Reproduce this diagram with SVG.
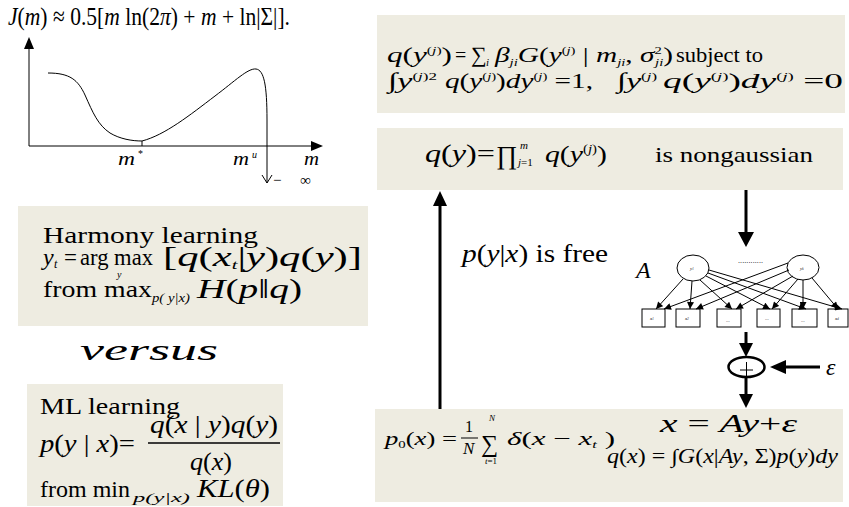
<svg xmlns="http://www.w3.org/2000/svg" width="849" height="507" viewBox="0 0 849 507">
<style>
text{font-family:"Liberation Serif","Times New Roman",serif;fill:#000}
.i{font-style:italic}
.box{fill:#EEECE1;stroke:none}
.thin{stroke:#000;stroke-width:1;fill:none}
.thick{stroke:#000;stroke-width:3;fill:none}
.tiny{font-size:5px}
</style>
<defs>
<marker id="ah" viewBox="0 0 10 10" refX="10" refY="5" markerWidth="8" markerHeight="7" markerUnits="userSpaceOnUse" orient="auto">
<path d="M0,0 L10,5 L0,10 z" fill="#000"/>
</marker>
</defs>
<rect width="849" height="507" fill="#fff"/>

<g id="graph">
<text x="8" y="25" font-size="26" textLength="282" lengthAdjust="spacingAndGlyphs"><tspan class="i">J</tspan>(<tspan class="i">m</tspan>) ≈ 0.5[<tspan class="i">m</tspan> ln(2<tspan class="i">π</tspan>) + <tspan class="i">m</tspan> + ln|Σ|].</text>
<line x1="29" y1="146" x2="29" y2="48" class="thin" stroke-width="1.5"/>
<polygon points="29,37 24,49 34,49" fill="#000"/>
<line x1="29" y1="146" x2="312" y2="146" class="thin" stroke-width="1.5"/>
<polygon points="323,146 311,141 311,151" fill="#000"/>
<path class="thin" d="M48,73 C70,73 78,80 85,95 C93,113 98,125 110,133 C120,139 132,141 142,141 C165,135 190,115 215,96 C235,81 248,68 256,69 C264,70 267,85 267,120 L267,183"/>
<line x1="142" y1="141" x2="142" y2="146" class="thin"/>
<polyline class="thin" points="262,175 267,183 272,175"/>
<text x="273" y="185" font-size="15" textLength="38" lengthAdjust="spacing">− ∞</text>
<text x="118" y="165" font-size="18" class="i" textLength="17" lengthAdjust="spacingAndGlyphs">m</text>
<text x="138" y="157" font-size="10">*</text>
<text x="233" y="165" font-size="18" class="i" textLength="16" lengthAdjust="spacingAndGlyphs">m</text>
<text x="252" y="158" font-size="10" class="i">u</text>
<text x="304" y="165" font-size="18" class="i" textLength="15" lengthAdjust="spacingAndGlyphs">m</text>
</g>

<g id="harmony">
<rect class="box" x="18" y="206" width="350" height="120"/>
<text x="43" y="243" font-size="23" textLength="215" lengthAdjust="spacingAndGlyphs">Harmony  learning</text>
<text x="43" y="265" font-size="24" class="i">y</text>
<text x="54" y="268" font-size="12" class="i">t</text>
<text x="64" y="265" font-size="23">=</text>
<text x="80" y="265" font-size="23" textLength="73" lengthAdjust="spacingAndGlyphs">arg max</text>
<text x="117" y="278" font-size="10" class="i">y</text>
<text x="163" y="266" font-size="27" textLength="199" lengthAdjust="spacingAndGlyphs">[<tspan class="i">q</tspan>(<tspan class="i">x</tspan><tspan font-size="13" dy="3" class="i">t</tspan><tspan dy="-3">|</tspan><tspan class="i">y</tspan>)<tspan class="i">q</tspan>(<tspan class="i">y</tspan>)]</text>
<text x="43" y="297" font-size="23" textLength="109" lengthAdjust="spacingAndGlyphs">from  max</text>
<text x="152" y="302" font-size="12" class="i" textLength="38" lengthAdjust="spacingAndGlyphs">p( y|x)</text>
<text x="197" y="298" font-size="27" textLength="105" lengthAdjust="spacingAndGlyphs"><tspan class="i">H</tspan>(<tspan class="i">p</tspan>‖<tspan class="i">q</tspan>)</text>
</g>

<text x="80" y="360" font-size="30" class="i" textLength="138" lengthAdjust="spacingAndGlyphs">versus</text>

<g id="ml">
<rect class="box" x="27" y="384" width="256" height="122"/>
<text x="40" y="414" font-size="23" textLength="140" lengthAdjust="spacingAndGlyphs">ML learning</text>
<text x="40" y="452" font-size="26" textLength="95" lengthAdjust="spacingAndGlyphs"><tspan class="i">p</tspan>(<tspan class="i">y</tspan> | <tspan class="i">x</tspan>)=</text>
<text x="150" y="433" font-size="25" textLength="128" lengthAdjust="spacingAndGlyphs"><tspan class="i">q</tspan>(<tspan class="i">x</tspan> | <tspan class="i">y</tspan>)<tspan class="i">q</tspan>(<tspan class="i">y</tspan>)</text>
<line x1="148" y1="443" x2="280" y2="443" stroke="#000" stroke-width="1.3"/>
<text x="190" y="470" font-size="25" textLength="42" lengthAdjust="spacingAndGlyphs"><tspan class="i">q</tspan>(<tspan class="i">x</tspan>)</text>
<text x="40" y="497" font-size="23" textLength="90" lengthAdjust="spacingAndGlyphs">from min</text>
<text x="133" y="502" font-size="12" class="i" textLength="57" lengthAdjust="spacingAndGlyphs">p(y|x)</text>
<text x="197" y="497" font-size="26" class="i" textLength="73" lengthAdjust="spacingAndGlyphs">KL<tspan font-style="normal">(</tspan>θ<tspan font-style="normal">)</tspan></text>
</g>

<g id="qyj">
<rect class="box" x="377" y="15" width="468" height="98"/>
<text x="387" y="62" font-size="22" textLength="65" lengthAdjust="spacingAndGlyphs"><tspan class="i">q</tspan>(<tspan class="i">y</tspan><tspan font-size="11" dy="-8">(<tspan class="i">j</tspan>)</tspan><tspan dy="8">)</tspan></text>
<text x="455" y="62" font-size="20">=</text>
<text x="471" y="62" font-size="22">∑</text>
<text x="486" y="66" font-size="11" class="i">i</text>
<text x="495" y="62" font-size="22" textLength="178" lengthAdjust="spacingAndGlyphs"><tspan class="i">β</tspan><tspan font-size="11" dy="4" class="i">ji</tspan><tspan dy="-4" class="i">G</tspan>(<tspan class="i">y</tspan><tspan font-size="11" dy="-8">(<tspan class="i">j</tspan>)</tspan><tspan dy="8"> | </tspan><tspan class="i">m</tspan><tspan font-size="11" dy="4" class="i">ji</tspan><tspan dy="-4">, </tspan><tspan class="i">σ</tspan><tspan font-size="11" dy="-8">2</tspan><tspan font-size="11" dy="12" dx="-5" class="i">ji</tspan><tspan dy="-4">)</tspan></text>
<text x="676" y="62" font-size="21" textLength="87" lengthAdjust="spacingAndGlyphs">subject to</text>
<text x="388" y="88" font-size="22" textLength="49" lengthAdjust="spacingAndGlyphs">∫<tspan class="i">y</tspan><tspan font-size="11" dy="-8">(<tspan class="i">j</tspan>)2</tspan></text>
<text x="445" y="88" font-size="22" textLength="148" lengthAdjust="spacingAndGlyphs"><tspan class="i">q</tspan>(<tspan class="i">y</tspan><tspan font-size="11" dy="-8">(<tspan class="i">j</tspan>)</tspan><tspan dy="8">)</tspan><tspan class="i">dy</tspan><tspan font-size="11" dy="-8">(<tspan class="i">j</tspan>)</tspan><tspan dy="8"> =1,</tspan></text>
<text x="617" y="88" font-size="22" textLength="40" lengthAdjust="spacingAndGlyphs">∫<tspan class="i">y</tspan><tspan font-size="11" dy="-8">(<tspan class="i">j</tspan>)</tspan></text>
<text x="663" y="88" font-size="22" textLength="180" lengthAdjust="spacingAndGlyphs"><tspan class="i">q</tspan>(<tspan class="i">y</tspan><tspan font-size="11" dy="-8">(<tspan class="i">j</tspan>)</tspan><tspan dy="8">)</tspan><tspan class="i">dy</tspan><tspan font-size="11" dy="-8">(<tspan class="i">j</tspan>)</tspan><tspan dy="8"> =0</tspan></text>
</g>

<g id="qy">
<rect class="box" x="377" y="128" width="466" height="62"/>
<text x="425" y="162" font-size="25" textLength="70" lengthAdjust="spacingAndGlyphs"><tspan class="i">q</tspan>(<tspan class="i">y</tspan>)=</text>
<text x="496" y="164" font-size="26">∏</text>
<text x="520" y="149" font-size="11" class="i">m</text>
<text x="518" y="166" font-size="11"><tspan class="i">j</tspan>=1</text>
<text x="545" y="162" font-size="24" textLength="62" lengthAdjust="spacingAndGlyphs"><tspan class="i">q</tspan>(<tspan class="i">y</tspan><tspan font-size="12" dy="-9">(<tspan class="i">j</tspan>)</tspan><tspan dy="9">)</tspan></text>
<text x="655" y="162" font-size="22" textLength="158" lengthAdjust="spacingAndGlyphs">is nongaussian</text>
</g>

<g id="data">
<rect class="box" x="375" y="409" width="468" height="93"/>
<text x="385" y="445" font-size="18" textLength="72" lengthAdjust="spacingAndGlyphs"><tspan class="i">p</tspan><tspan font-size="10" dy="3">0</tspan><tspan dy="-3">(</tspan><tspan class="i">x</tspan>) =</text>
<text x="465" y="432" font-size="16">1</text>
<line x1="461" y1="438" x2="478" y2="438" stroke="#000" stroke-width="1"/>
<text x="463" y="454" font-size="17" class="i">N</text>
<text x="481" y="452" font-size="24">∑</text>
<text x="489" y="421" font-size="9" class="i">N</text>
<text x="485" y="464" font-size="9"><tspan class="i">t</tspan>=1</text>
<text x="507" y="445" font-size="19" textLength="108" lengthAdjust="spacingAndGlyphs"><tspan class="i">δ</tspan>(<tspan class="i">x</tspan> − <tspan class="i">x</tspan><tspan font-size="10" dy="3" class="i">t</tspan><tspan dy="-3"> )</tspan></text>
<text x="660" y="432" font-size="26" textLength="137" lengthAdjust="spacingAndGlyphs"><tspan class="i">x</tspan> = <tspan class="i">Ay</tspan>+<tspan class="i">ε</tspan></text>
<text x="607" y="463" font-size="20" textLength="231" lengthAdjust="spacingAndGlyphs"><tspan class="i">q</tspan>(<tspan class="i">x</tspan>) = ∫<tspan class="i">G</tspan>(<tspan class="i">x</tspan>|<tspan class="i">Ay</tspan>, Σ)<tspan class="i">p</tspan>(<tspan class="i">y</tspan>)<tspan class="i">dy</tspan></text>
</g>

<text x="462" y="262" font-size="25" textLength="146" lengthAdjust="spacingAndGlyphs"><tspan class="i">p</tspan>(<tspan class="i">y</tspan>|<tspan class="i">x</tspan>) is free</text>

<g id="network">
<text x="636" y="278" font-size="24" class="i">A</text>
<text x="738" y="263" font-size="8" textLength="25" lengthAdjust="spacing">............</text>
<g id="y1"><ellipse cx="693" cy="268" rx="16" ry="13" class="thin"/><text x="690" y="270" class="tiny i">y<tspan font-size="3">1</tspan></text></g>
<g id="yk"><ellipse cx="803" cy="267.5" rx="16" ry="12.5" class="thin"/><text x="800" y="270" class="tiny i">y<tspan font-size="3">k</tspan></text></g>
<g id="x1"><rect x="642" y="309" width="23" height="18" class="thin"/><text x="650" y="320" class="tiny i">x<tspan font-size="3">1</tspan></text></g>
<g id="x2"><rect x="676" y="309" width="24" height="18" class="thin"/><text x="685" y="320" class="tiny i">x<tspan font-size="3">2</tspan></text></g>
<g id="x3"><rect x="717" y="309" width="24" height="18" class="thin"/><text x="726" y="322" class="tiny">...</text></g>
<g id="x4"><rect x="757" y="309" width="23" height="18" class="thin"/><text x="765" y="320" class="tiny">...</text></g>
<g id="x5"><rect x="792" y="309" width="25" height="18" class="thin"/><text x="801" y="322" class="tiny">...</text></g>
<g id="x6"><rect x="828" y="309" width="20" height="18" class="thin"/><text x="835" y="320" class="tiny i">x<tspan font-size="3">d</tspan></text></g>
</g>

<g id="connectors">
<g class="thin" marker-end="url(#ah)">
<line x1="683" y1="279" x2="656" y2="309"/>
<line x1="692" y1="281" x2="690" y2="309"/>
<line x1="700" y1="280" x2="732" y2="309"/>
<line x1="706" y1="276" x2="770" y2="309"/>
<line x1="708" y1="273" x2="806" y2="309"/>
<line x1="709" y1="270" x2="842" y2="309"/>
<line x1="788" y1="263" x2="664" y2="309"/>
<line x1="789" y1="270" x2="696" y2="309"/>
<line x1="793" y1="276" x2="736" y2="309"/>
<line x1="798" y1="279" x2="772" y2="309"/>
<line x1="803" y1="280" x2="803" y2="309"/>
<line x1="812" y1="278" x2="838" y2="309"/>
</g>
<line x1="440" y1="409" x2="440" y2="204" class="thick"/>
<polygon points="440,191 433,206 447,206" fill="#000"/>
<line x1="746" y1="190" x2="746" y2="233" class="thick"/>
<polygon points="746,247 738,232 754,232" fill="#000"/>
<line x1="746" y1="332" x2="746" y2="345" class="thick"/>
<polygon points="746,357 739,343 753,343" fill="#000"/>
<line x1="746" y1="377" x2="746" y2="396" class="thick"/>
<polygon points="746,408 739,394 753,394" fill="#000"/>
<line x1="820" y1="367" x2="784" y2="367" class="thick"/>
<polygon points="770,367 786,360 786,374" fill="#000"/>
</g>

<g id="plus">
<ellipse cx="746.5" cy="367" rx="18" ry="10" fill="none" stroke="#000" stroke-width="2.5"/>
<line x1="746.5" y1="362" x2="746.5" y2="376" class="thin" stroke-width="0.8"/>
<line x1="740" y1="370" x2="753" y2="370" class="thin" stroke-width="0.8"/>
</g>
<text x="826" y="375" font-size="24" class="i">ε</text>
</svg>
